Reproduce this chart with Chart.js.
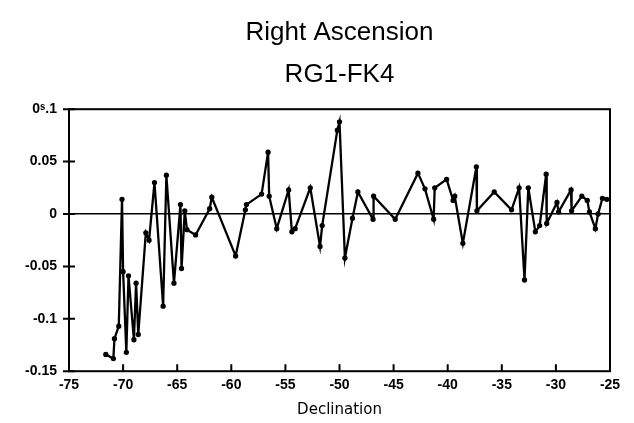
<!DOCTYPE html>
<html>
<head>
<meta charset="utf-8">
<script src="https://cdn.jsdelivr.net/npm/chart.js@4"></script>
<style>
  html, body { margin: 0; padding: 0; background: #fff; }
  #wrap { width: 634px; height: 423px; }
</style>
</head>
<body>
<div id="wrap"><canvas id="chart" width="634" height="423"></canvas></div>
<script>
// declination (deg) and RA difference (s) in drawing order
const declination = [
  -71.6, -70.9, -70.8, -70.4, -70.1, -70.0, -69.7, -69.5, -69.0, -68.8, -68.6,
  -67.9, -67.6, -67.1, -66.3, -66.0, -65.3, -64.7, -64.6, -64.3, -64.1, -63.3,
  -62.0, -61.8, -59.6, -58.7, -58.6, -57.2, -56.6, -56.5, -55.8, -54.7, -54.4,
  -54.1, -52.7, -51.8, -51.6, -50.2, -50.0, -49.5, -48.8, -48.3, -46.9, -46.85,
  -44.85, -42.75, -42.1, -41.3, -41.2, -40.1, -39.5, -39.35, -38.6, -37.35,
  -37.3, -35.7, -34.1, -33.4, -32.9, -32.55, -31.9, -31.5, -30.9, -30.85,
  -29.9, -29.75, -28.6, -28.55, -27.6, -27.1, -26.9, -26.35, -26.1, -25.7, -25.3
];
const raDiff = [
  -0.134, -0.138, -0.119, -0.107, 0.014, -0.055, -0.132, -0.059, -0.120, -0.066, -0.115,
  -0.018, -0.025, 0.030, -0.088, 0.037, -0.066, 0.009, -0.052, 0.003, -0.015, -0.020,
  0.005, 0.016, -0.040, 0.004, 0.009, 0.019, 0.059, 0.017, -0.014, 0.023, -0.017,
  -0.014, 0.025, -0.031, -0.011, 0.080, 0.088, -0.042, -0.004, 0.021, -0.005, 0.017,
  -0.005, 0.039, 0.024, -0.005, 0.025, 0.033, 0.013, 0.017, -0.028, 0.045,
  0.003, 0.021, 0.004, 0.025, -0.063, 0.025, -0.017, -0.011, 0.038, -0.009,
  0.011, 0.002, 0.023, 0.003, 0.017, 0.013, 0.002, -0.014, 0.000, 0.015, 0.014
];
const xTicks = [-75, -70, -65, -60, -55, -50, -45, -40, -35, -30, -25];
const yTicks = [-0.15, -0.1, -0.05, 0, 0.05, 0.1];
const yLabels = ['-0.15', '-0.1', '-0.05', '0', '0.05', '0\u02E2.1'];

let points = declination.map((d, i) => ({ x: d, y: raDiff[i] }));

// box round the plot area, plus the short tick marks on the left and bottom edges
const frame = {
  id: 'frame',
  afterDraw(chart) {
    const a = chart.chartArea, ctx = chart.ctx;
    const xs = chart.scales.x, ys = chart.scales.y;
    ctx.save();
    ctx.strokeStyle = '#000';
    ctx.lineWidth = 2;
    ctx.strokeRect(a.left, a.top, a.right - a.left, a.bottom - a.top);
    ctx.beginPath();
    xTicks.forEach(v => {
      const px = xs.getPixelForValue(v);
      ctx.moveTo(px, a.bottom);
      ctx.lineTo(px, a.bottom - 7);
    });
    yTicks.forEach(v => {
      const py = ys.getPixelForValue(v);
      ctx.moveTo(a.left - 6, py);
      ctx.lineTo(a.left + 6, py);
    });
    ctx.stroke();
    ctx.restore();
  }
};

new Chart(document.getElementById('chart'), {
  type: 'scatter',
  data: {
    datasets: [{
      data: points,
      showLine: true,
      borderColor: '#000',
      backgroundColor: '#000',
      borderWidth: 2.3,
      pointRadius: 1.5,
      pointHoverRadius: 1.5,
      tension: 0
    }]
  },
  options: {
    responsive: false,
    animation: false,
    layout: { padding: { left: 0, right: 24, top: 8, bottom: 4 } },
    plugins: {
      legend: { display: false },
      tooltip: { enabled: false },
      title: {
        display: true,
        fullSize: false,
        text: ['Right Ascension', 'RG1-FK4'],
        color: '#000',
        font: { family: 'Liberation Sans, Arial, sans-serif', size: 26, weight: 'normal', lineHeight: 1.6 },
        padding: { top: 4, bottom: 14 }
      }
    },
    scales: {
      x: {
        type: 'linear',
        min: -75, max: -25,
        afterBuildTicks: s => { s.ticks = xTicks.map(v => ({ value: v })); },
        ticks: {
          color: '#000',
          padding: 6,
          font: { family: 'Liberation Sans, Arial, sans-serif', size: 14, weight: 'bold' },
          maxRotation: 0
        },
        grid: { drawOnChartArea: false, drawTicks: false },
        border: { display: false },
        title: {
          display: true,
          text: 'Declination',
          color: '#000',
          padding: { top: 1, bottom: 0 },
          font: { family: 'DejaVu Sans, sans-serif', size: 15, weight: 'normal' }
        }
      },
      y: {
        type: 'linear',
        min: -0.15, max: 0.1,
        afterBuildTicks: s => { s.ticks = yTicks.map(v => ({ value: v })); },
        afterFit: s => { s.width = 69; },
        ticks: {
          color: '#000',
          padding: 12,
          font: { family: 'Liberation Sans, Arial, sans-serif', size: 14, weight: 'bold' },
          callback: (v) => {
            const i = yTicks.findIndex(t => Math.abs(t - v) < 1e-9);
            return i >= 0 ? yLabels[i] : '';
          }
        },
        grid: {
          drawOnChartArea: true,
          drawTicks: false,
          lineWidth: 1.5,
          color: ctx => (ctx.tick && Math.abs(ctx.tick.value) < 1e-9 ? '#000' : 'rgba(0,0,0,0)')
        },
        border: { display: false }
      }
    }
  },
  plugins: [frame]
});
</script>
</body>
</html>
